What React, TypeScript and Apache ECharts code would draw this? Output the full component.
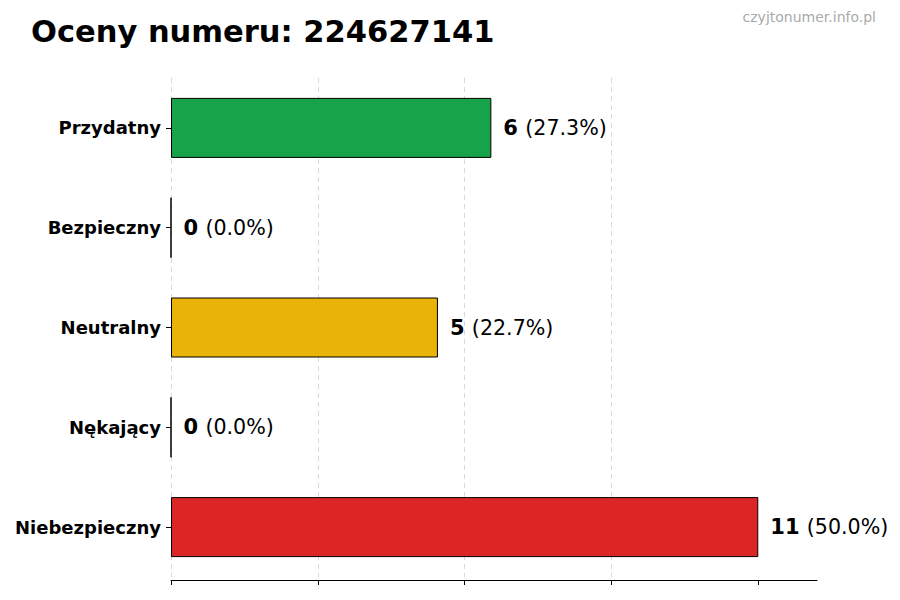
import { useEffect, useRef } from 'react'
import * as echarts from 'echarts'

const TITLE = 'Oceny numeru: 224627141'
const WATERMARK = 'czyjtonumer.info.pl'

// kolejność od góry do dołu
const CATEGORIES = ['Przydatny', 'Bezpieczny', 'Neutralny', 'Nękający', 'Niebezpieczny']
const COUNTS = [6, 0, 5, 0, 11]
const PERCENTS = ['27.3', '0.0', '22.7', '0.0', '50.0']
const COLORS = ['#17a34a', '#16a34a', '#eab308', '#f97316', '#dc2626']

const X_MAX = 12.1
const X_INTERVAL = 2.75
const X_TICKS = [0, 2.75, 5.5, 8.25, 11]

const FONT = '"DejaVu Sans", sans-serif'

export default function App() {
  const elRef = useRef<HTMLDivElement>(null)

  useEffect(() => {
    if (!elRef.current) return
    const chart = echarts.init(elRef.current, null, { renderer: 'svg' })
    chart.setOption({
      animation: false,
      backgroundColor: '#ffffff',
      textStyle: { fontFamily: FONT },
      title: [
        {
          text: TITLE,
          left: 26,
          top: 11,
          textStyle: { fontFamily: FONT, fontSize: 30.5, fontWeight: 'bold', color: '#000' },
        },
        {
          text: WATERMARK,
          right: 19,
          top: 5,
          textStyle: { fontFamily: FONT, fontSize: 14, fontWeight: 'normal', color: '#aaaaaa' },
        },
      ],
      grid: { left: 171, right: 83, top: 78, bottom: 23, containLabel: false },
      xAxis: {
        type: 'value',
        min: 0,
        max: X_MAX,
        interval: X_INTERVAL,
        offset: 3,
        axisLine: { show: true, lineStyle: { color: '#000', width: 1 } },
        axisTick: { show: true, length: 5, customValues: X_TICKS, lineStyle: { color: '#000' } },
        axisLabel: { show: false },
        splitLine: {
          show: true,
          showMaxLine: false,
          lineStyle: { color: '#d9d9d9', type: [5, 4], width: 1 },
        },
      },
      yAxis: {
        type: 'category',
        inverse: true,
        data: CATEGORIES,
        axisLine: { show: false },
        axisTick: { show: true, alignWithLabel: true, length: 5, lineStyle: { color: '#000' } },
        axisLabel: {
          color: '#000',
          fontFamily: FONT,
          fontSize: 18,
          fontWeight: 'bold',
          margin: 10,
        },
        splitLine: { show: false },
      },
      series: [
        {
          type: 'bar',
          barWidth: 60,
          data: COUNTS.map((v, i) => ({
            value: v,
            itemStyle: { color: COLORS[i], borderColor: '#000', borderWidth: 1 },
          })),
          label: {
            show: true,
            position: 'right',
            distance: 12,
            formatter: (p: any) => `{b|${COUNTS[p.dataIndex]} }{n|(${PERCENTS[p.dataIndex]}%)}`,
            rich: {
              b: { fontFamily: FONT, fontSize: 21, fontWeight: 'bold', color: '#000' },
              n: { fontFamily: FONT, fontSize: 20.6, fontWeight: 'normal', color: '#000' },
            },
          },
        },
      ],
    })
    return () => chart.dispose()
  }, [])

  return <div ref={elRef} style={{ width: 900, height: 600, margin: -8 }} />
}
